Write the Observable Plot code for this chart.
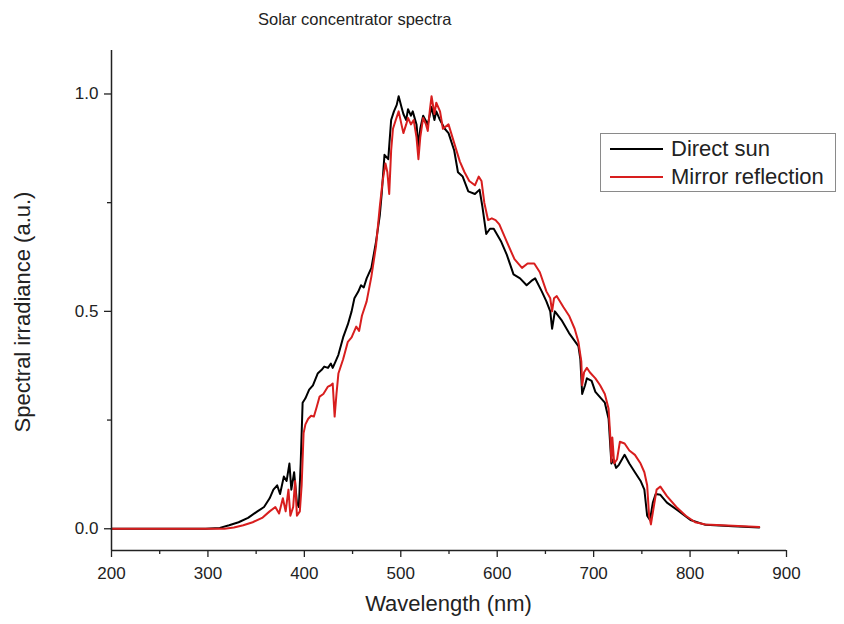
<!DOCTYPE html>
<html>
<head>
<meta charset="utf-8">
<script src="https://cdn.jsdelivr.net/npm/d3@7"></script>
<script src="https://cdn.jsdelivr.net/npm/@observablehq/plot@0.6"></script>
<style>
  html, body { margin: 0; padding: 0; background: #fff; }
  #wrap { position: relative; width: 844px; height: 624px; font-family: "Liberation Sans", Arial, sans-serif; color: #222; }
  #wrap svg { position: absolute; left: 0; top: 0; }
  .title { position: absolute; top: 10px; left: 258px; font-size: 16.5px; white-space: nowrap; }
  .xlabel { position: absolute; top: 591px; left: 0; width: 897px; text-align: center; font-size: 22px; }
  .ylabel { position: absolute; left: 23px; top: 312px; font-size: 22px; white-space: nowrap; transform: translate(-50%, -50%) rotate(-90deg); }
  .legend { position: absolute; left: 600px; top: 133px; width: 234px; height: 57px; border: 1.5px solid #8a8a8a; background: #fff; }
  .legend .row { position: absolute; left: 9px; font-size: 22px; line-height: 25px; white-space: nowrap; display: flex; align-items: center; }
  .legend .sw { display: inline-block; width: 53px; height: 2px; margin-right: 8px; }
</style>
</head>
<body>
<div id="wrap"></div>
<script>
const titleText = "Solar concentrator spectra";
const xLabel = "Wavelength (nm)";
const yLabel = "Spectral irradiance (a.u.)";
const seriesNames = ["Direct sun", "Mirror reflection"];
const seriesColors = ["#000000", "#d81e1e"];

const xTicks = [200, 300, 400, 500, 600, 700, 800, 900];
const xMinorTicks = [250, 350, 450, 550, 650, 750, 850];
const yTicks = [0.0, 0.5, 1.0];
const yMinorTicks = [0.25, 0.75];

// Direct sun
const directWl = [200, 297.6, 312.3, 322, 331.8, 341.6, 351.3, 358.2, 364, 367.9, 371.8, 374.8, 378.7, 381.6, 384.5, 386.5, 389.4, 392.3, 394.3, 396.2, 398.2, 401.1, 405, 408.9, 413.8, 417.7, 420.6, 424.5, 427.5, 429.4, 432.4, 435.3, 440.2, 445.1, 449, 451.9, 455.8, 458.7, 461.6, 464.6, 469.5, 474.3, 478.2, 480.2, 483.1, 487, 490, 492.9, 495.8, 497.8, 500.7, 502.7, 505.6, 507.5, 510.5, 512.4, 516.3, 518.3, 520.2, 523.2, 528, 531.9, 534.9, 536.8, 540.7, 545.6, 549.5, 555.4, 559.3, 564.2, 570, 576.9, 581.7, 584.7, 588.6, 592.5, 596.4, 604.2, 610, 616.9, 623.7, 630.5, 635.4, 639.3, 646.2, 651, 655, 656.9, 659.8, 666.7, 674.5, 684.2, 686.2, 688.1, 691.1, 693, 697.9, 701.8, 707.7, 711.6, 715.5, 718.4, 720.4, 723.3, 726.2, 732.1, 737, 742.8, 748.7, 752.6, 755.5, 758.4, 761.4, 764.3, 769.2, 776, 788.7, 800.4, 816, 844.4, 871.7];
const directVal = [0, 0, 0.002, 0.008, 0.015, 0.025, 0.04, 0.05, 0.07, 0.09, 0.1, 0.08, 0.12, 0.11, 0.15, 0.09, 0.13, 0.06, 0.05, 0.15, 0.29, 0.30, 0.32, 0.33, 0.357, 0.365, 0.373, 0.37, 0.38, 0.37, 0.385, 0.40, 0.44, 0.47, 0.50, 0.53, 0.545, 0.56, 0.555, 0.576, 0.60, 0.66, 0.72, 0.77, 0.86, 0.85, 0.94, 0.96, 0.975, 0.995, 0.97, 0.954, 0.94, 0.965, 0.95, 0.96, 0.93, 0.88, 0.92, 0.95, 0.93, 0.97, 0.94, 0.96, 0.94, 0.92, 0.91, 0.87, 0.82, 0.81, 0.776, 0.77, 0.78, 0.74, 0.678, 0.69, 0.69, 0.66, 0.63, 0.585, 0.576, 0.56, 0.57, 0.576, 0.546, 0.523, 0.50, 0.46, 0.50, 0.48, 0.45, 0.42, 0.39, 0.31, 0.33, 0.346, 0.34, 0.315, 0.30, 0.29, 0.253, 0.15, 0.16, 0.14, 0.147, 0.17, 0.15, 0.13, 0.11, 0.09, 0.03, 0.02, 0.06, 0.08, 0.078, 0.06, 0.04, 0.02, 0.009, 0.006, 0.003];

// Mirror reflection
const mirrorWl = [200, 317.2, 326.9, 336.7, 346.4, 356.2, 364, 369.9, 373.8, 377.7, 380.6, 383.5, 385.5, 388.4, 390.4, 392.3, 395.3, 397.2, 399.2, 401.1, 404, 407, 409.9, 412.8, 415.8, 419.7, 424.5, 427.5, 429.4, 431.4, 433.3, 435.3, 440.2, 445.1, 449, 453.8, 456.8, 459.7, 464.6, 469.5, 474.3, 478.2, 481.2, 484.1, 486.1, 488, 490, 491.9, 494.8, 497.8, 500.7, 502.7, 505.6, 507.5, 510.5, 513.4, 516.3, 518.3, 520.2, 523.2, 526.1, 528, 530, 531.9, 534.9, 536.8, 540.7, 543.7, 549.5, 555.4, 561.2, 566.1, 571, 576.9, 580.8, 583.7, 586.6, 590.5, 594.4, 598.3, 602.2, 610, 617.9, 625.7, 631.5, 638.4, 644.2, 651, 655, 656.9, 658.9, 661.8, 668.6, 674.5, 680.3, 684.2, 687.2, 688.1, 690.1, 693, 696, 701.8, 706.7, 711.6, 715.5, 717.4, 718.4, 719.4, 721.3, 724.3, 727.2, 732.1, 737, 742.8, 748.7, 752.6, 755.5, 757.5, 759.4, 762.3, 765.3, 769.2, 776, 785.8, 795.5, 805.3, 816, 844.4, 871.7];
const mirrorVal = [0, 0, 0.003, 0.008, 0.015, 0.025, 0.04, 0.05, 0.035, 0.07, 0.04, 0.09, 0.03, 0.05, 0.11, 0.03, 0.04, 0.10, 0.22, 0.24, 0.253, 0.26, 0.258, 0.28, 0.304, 0.31, 0.327, 0.33, 0.334, 0.258, 0.31, 0.357, 0.39, 0.43, 0.44, 0.465, 0.455, 0.49, 0.523, 0.58, 0.65, 0.74, 0.80, 0.84, 0.82, 0.77, 0.87, 0.92, 0.94, 0.96, 0.93, 0.91, 0.93, 0.945, 0.93, 0.94, 0.90, 0.85, 0.90, 0.945, 0.93, 0.915, 0.96, 0.995, 0.954, 0.98, 0.96, 0.92, 0.93, 0.887, 0.845, 0.82, 0.80, 0.79, 0.81, 0.80, 0.75, 0.71, 0.714, 0.71, 0.70, 0.66, 0.62, 0.60, 0.61, 0.61, 0.59, 0.546, 0.53, 0.50, 0.53, 0.535, 0.51, 0.49, 0.46, 0.43, 0.385, 0.33, 0.36, 0.37, 0.36, 0.346, 0.33, 0.31, 0.276, 0.207, 0.154, 0.21, 0.15, 0.16, 0.20, 0.196, 0.18, 0.17, 0.15, 0.13, 0.10, 0.03, 0.01, 0.05, 0.09, 0.097, 0.075, 0.05, 0.03, 0.015, 0.01, 0.007, 0.004];

const direct = directWl.map((w, i) => ({wl: w, v: directVal[i]}));
const mirror = mirrorWl.map((w, i) => ({wl: w, v: mirrorVal[i]}));

const plot = Plot.plot({
  width: 844,
  height: 624,
  marginLeft: 111,
  marginRight: 58,
  marginTop: 50,
  marginBottom: 74,
  x: {domain: [200, 900]},
  y: {domain: [-0.05, 1.1]},
  style: {fontFamily: "'Liberation Sans', Arial, sans-serif", fontSize: "17px", color: "#222", background: "transparent"},
  marks: [
    Plot.lineY(direct, {x: "wl", y: "v", stroke: seriesColors[0], strokeWidth: 2}),
    Plot.lineY(mirror, {x: "wl", y: "v", stroke: seriesColors[1], strokeWidth: 2}),
    Plot.ruleX([200], {stroke: "#222", strokeWidth: 1.5}),
    Plot.ruleY([-0.05], {stroke: "#222", strokeWidth: 1.5}),
    Plot.axisX({ticks: xTicks, tickSize: 7, tickPadding: 9, tickFormat: d => String(d), label: null, fontSize: 17, strokeWidth: 1.3}),
    Plot.axisX({ticks: xMinorTicks, tickSize: 4, tickFormat: () => "", label: null, strokeWidth: 1.3}),
    Plot.axisY({ticks: yTicks, tickSize: 7, tickPadding: 6, tickFormat: d3.format(".1f"), label: null, fontSize: 17, strokeWidth: 1.3}),
    Plot.axisY({ticks: yMinorTicks, tickSize: 4, tickFormat: () => "", label: null, strokeWidth: 1.3})
  ]
});

const wrap = document.getElementById("wrap");
wrap.appendChild(plot);

function addDiv(cls, text) {
  const d = document.createElement("div");
  d.className = cls;
  d.textContent = text;
  wrap.appendChild(d);
  return d;
}
addDiv("title", titleText);
addDiv("xlabel", xLabel);
addDiv("ylabel", yLabel);

const legend = document.createElement("div");
legend.className = "legend";
seriesNames.forEach((name, i) => {
  const row = document.createElement("div");
  row.className = "row";
  row.style.top = (i === 0 ? 2 : 30) + "px";
  const sw = document.createElement("span");
  sw.className = "sw";
  sw.style.background = seriesColors[i];
  const t = document.createElement("span");
  t.textContent = name;
  row.appendChild(sw);
  row.appendChild(t);
  legend.appendChild(row);
});
wrap.appendChild(legend);
</script>
</body>
</html>
